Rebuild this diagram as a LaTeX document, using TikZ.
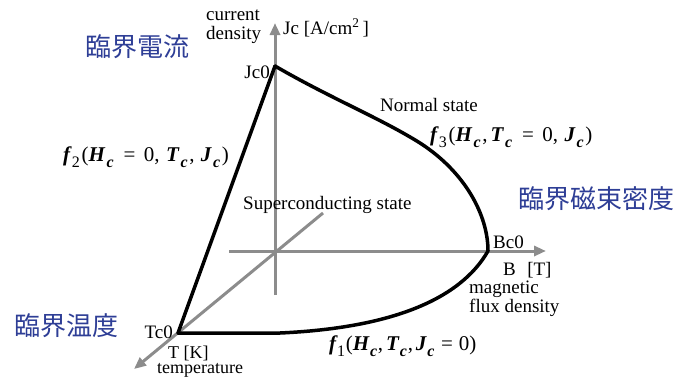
\documentclass[tikz,border=0pt]{standalone}
\usepackage{fontspec}
\setmainfont{Liberation Serif}
\newfontfamily\cjkfont{Noto Sans CJK JP}
\usetikzlibrary{arrows.meta}
\definecolor{kanji}{RGB}{46,62,150}
\definecolor{axisgray}{RGB}{140,140,140}
\newcommand\bivar[1]{{\bfseries\itshape #1}}
\newcommand\sbx[1]{\hspace{0.08em}\raisebox{-0.3em}{\fontsize{16}{16}\selectfont #1}\hspace{0.08em}}
\newcommand\sbn[1]{\hspace{0.04em}\raisebox{-0.3em}{\fontsize{16}{16}\selectfont #1}\hspace{0.04em}}
\newcommand\eqs{\hspace{0.4em}=\hspace{0.4em}}
\newcommand\cma{,\hspace{0.3em}}
\newcommand\eqn{\hspace{0.28em}=\hspace{0.28em}}
\newcommand\cmn{,\hspace{0.14em}}
\begin{document}
\begin{tikzpicture}[x=1pt,y=-1pt,
  axis/.style={draw=axisgray,line width=3pt,-{Triangle[length=12pt,width=10pt]}},
  boundary/.style={draw=black,line width=3.5pt,line join=round,line cap=round},
  lbl/.style={inner sep=0pt,font=\fontsize{19}{19}\selectfont},
  smlbl/.style={inner sep=0pt,font=\fontsize{18}{15}\selectfont},
  eqlbl/.style={inner sep=0pt,font=\fontsize{21}{23}\selectfont},
  kanjilbl/.style={inner sep=0pt,text=kanji,font=\cjkfont\fontsize{26}{28}\selectfont}]
\useasboundingbox (0,0) rectangle (685,378);
% coordinates
\coordinate (O) at (275,251);
\coordinate (Jtop) at (275,23);
\coordinate (Jbot) at (275,295);
\coordinate (Bleft) at (229,251);
\coordinate (Bright) at (546,251);
\coordinate (Tstart) at (323,213);
\coordinate (Ttip) at (134,369);
\coordinate (Jc0) at (275,66);
\coordinate (Bc0) at (488,251);
\coordinate (Tc0) at (178,333);
% axes
\draw[axis] (Jbot) -- (Jtop);
\draw[axis] (Bleft) -- (Bright);
\draw[axis] (Tstart) -- (Ttip);
% boundary
\draw[boundary] (Tc0) -- (Jc0);
\draw[boundary] (Jc0) .. controls (330,98) and (380,118) .. (420,143)
   .. controls (465,172) and (488,215) .. (Bc0);
\draw[boundary] (Bc0) .. controls (460,300) and (390,328) .. (280,333) -- (Tc0);
% labels
\node[lbl,anchor=base west] (cd1) at (206,20) {current};
\node[lbl,anchor=base west] (cd2) at (206,39) {density};
\node[lbl,anchor=base west] (jcunit) at (283,34) {Jc [A/cm\textsuperscript{2}\,]};
\node[lbl,anchor=base east] (jc0l) at (270,78) {Jc0};
\node[lbl,anchor=base west] (normal) at (380,111) {Normal state};
\node[lbl,anchor=base west] (sc) at (243,209) {Superconducting state};
\node[lbl,anchor=base west] (bc0l) at (493,248) {Bc0};
\node[lbl,anchor=base west] (bunit) at (503,275) {B\hspace{0.6em}[T]};
\node[lbl,anchor=base west] (mfd1) at (469,293) {magnetic};
\node[lbl,anchor=base west] (mfd2) at (469,312) {flux density};
\node[lbl,anchor=base east] (tc0l) at (173,338) {Tc0};
\node[smlbl,anchor=north west,align=left] (temp) at (157,346)
  {\hspace{11pt}T [K]\\temperature};
\node[kanjilbl] (k1) at (137,47) {臨界電流};
\node[kanjilbl] (k2) at (596,199) {臨界磁束密度};
\node[kanjilbl] (k3) at (66,326) {臨界温度};
\node[eqlbl,anchor=west] (f2) at (63,157)
  {\bivar{f}\sbx{2}(\bivar{H}\sbx{\bivar{c}}\eqs0\cma\bivar{T}\sbx{\bivar{c}}\cma\bivar{J}\sbx{\bivar{c}})};
\node[eqlbl,anchor=west] (f3) at (430,137)
  {\bivar{f}\sbx{3}(\bivar{H}\sbx{\bivar{c}}\cmn\bivar{T}\sbx{\bivar{c}}\eqs0\cma\bivar{J}\sbx{\bivar{c}})};
\node[eqlbl,anchor=west] (f1) at (329,346)
  {\bivar{f}\sbn{1}(\bivar{H}\sbn{\bivar{c}}\cmn\bivar{T}\sbn{\bivar{c}}\cmn\bivar{J}\sbn{\bivar{c}}\eqn0)};
\end{tikzpicture}
\end{document}
